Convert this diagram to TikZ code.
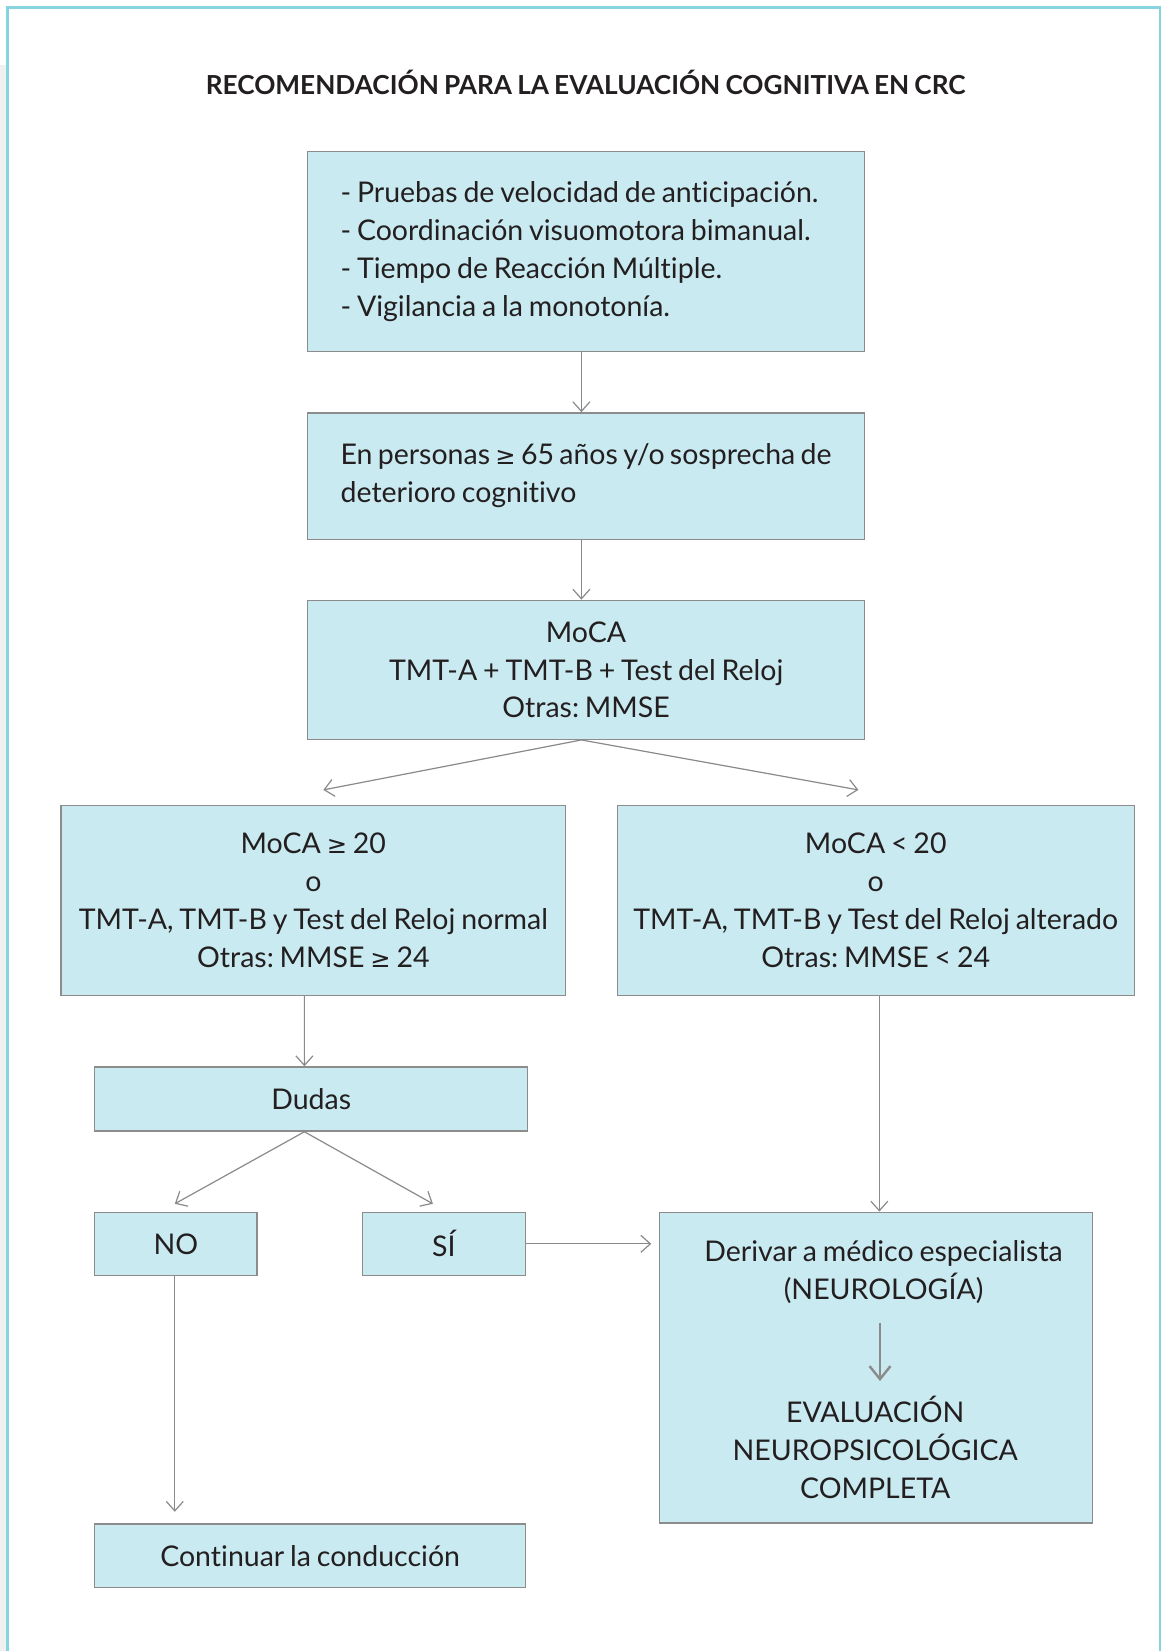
\documentclass[tikz,border=0pt]{standalone}
\usepackage{fontspec}
\setmainfont[Ligatures=NoCommon,WordSpace=0.8]{Lato}
\newfontfamily\symfont{DejaVu Sans}
\usetikzlibrary{arrows.meta}
\definecolor{boxfill}{HTML}{C9EAF0}
\definecolor{boxline}{HTML}{8C8C8C}
\definecolor{framecol}{HTML}{86D4E0}
\definecolor{ink}{HTML}{231F20}
\definecolor{arrowgray}{HTML}{8A8A8A}
\definecolor{stripgray}{HTML}{F0F0F0}
\newcommand{\gesign}{{\symfont\scalebox{0.85}{≥}}}
\frenchspacing
\begin{document}
\begin{tikzpicture}[x=1pt,y=-1pt,
  every node/.style={text=ink,font=\fontsize{28.5}{37.9}\selectfont},
  flowbox/.style={draw=boxline,line width=1.3pt,fill=boxfill,inner sep=0pt,align=center},
  listbox/.style={flowbox,align=flush left,inner xsep=33pt},
  plain/.style={inner sep=0pt,align=center},
  link/.style={draw=arrowgray,line width=1.2pt,-{Straight Barb[length=9.5pt,width=17pt,line width=1.2pt]}},
  biglink/.style={draw=arrowgray,line width=2.4pt,-{Straight Barb[length=13pt,width=21pt,line width=2.4pt]}}
]
\useasboundingbox (0,0) rectangle (1168,1651);
\fill[white] (0,0) rectangle (1168,1651);
% grey strip on the left margin and the open cyan frame
\fill[stripgray] (0,65) rectangle (6,1651);
\draw[framecol,line width=2.6pt] (7.5,1651) -- (7.5,7.5) -- (1160,7.5) -- (1160,1651);

% title
\node[plain,font=\bfseries\fontsize{26.2}{32}\selectfont] (title) at (585.6,82) {RECOMENDACIÓN PARA LA EVALUACIÓN COGNITIVA EN CRC};

% boxes
\node[listbox,minimum width=557.2pt,minimum height=200.1pt,text width=491pt] (b1) at (586.1,251.75)
 {- Pruebas de velocidad de anticipación.\\- Coordinación visuomotora bimanual.\\- Tiempo de Reacción Múltiple.\\- Vigilancia a la monotonía.};
\node[listbox,minimum width=557.2pt,minimum height=126.3pt,text width=491pt] (b2) at (586.1,476)
 {En personas \gesign{} 65 años y/o sosprecha de\\deterioro cognitivo};
\node[flowbox,minimum width=557.2pt,minimum height=139pt] (b3) at (586.1,669.8)
 {MoCA\\TMT-A + TMT-B + Test del Reloj\\Otras: MMSE};
\node[flowbox,minimum width=504.5pt,minimum height=189.6pt] (b4) at (313.35,900.5)
 {MoCA \gesign{} 20\\o\\TMT-A, TMT-B y Test del Reloj normal\\Otras: MMSE \gesign{} 24};
\node[flowbox,minimum width=517.1pt,minimum height=189.6pt] (b5) at (875.75,900.5)
 {MoCA < 20\\o\\TMT-A, TMT-B y Test del Reloj alterado\\Otras: MMSE < 24};
\node[flowbox,minimum width=432.8pt,minimum height=64.2pt] (dudas) at (311.2,1099) {Dudas};
\node[flowbox,minimum width=162.2pt,minimum height=63.2pt] (no) at (175.9,1243.8) {NO};
\node[flowbox,minimum width=163.2pt,minimum height=63.2pt] (si) at (443.9,1243.8) {SÍ};
\node[flowbox,minimum width=432.9pt,minimum height=310.7pt] (deriv) at (875.75,1367.55) {};
\node[plain] (derivtxt) at (883.6,1272.2) {Derivar a médico especialista\\(NEUROLOGÍA)};
\node[plain] (evaltxt) at (875.2,1447.8) {EVALUACIÓN\\NEUROPSICOLÓGICA\\COMPLETA};
\node[flowbox,minimum width=430.7pt,minimum height=63.2pt] (cont) at (310.15,1555.6) {Continuar la conducción};

% free arrow ends
\coordinate (t4) at (323.3,789.9);
\coordinate (t5) at (858.4,789.9);
\coordinate (tno) at (174.8,1203.8);
\coordinate (tsi) at (432.9,1203.8);
\coordinate (b3out) at ([xshift=-4.7pt]b3.south);
\coordinate (dout) at ([xshift=-6.8pt]dudas.south);
\coordinate (inA) at (880,1322.7);
\coordinate (inB) at (880,1381);

% connectors
\draw[link] ([xshift=-4.7pt]b1.south) -- ([xshift=-4.7pt]b2.north);
\draw[link] ([xshift=-4.7pt]b2.south) -- ([xshift=-4.7pt]b3.north);
\draw[link] (b3out) -- (t4);
\draw[link] (b3out) -- (t5);
\draw[link] ([xshift=-9pt]b4.south) -- ([xshift=-6.8pt]dudas.north);
\draw[link] (dout) -- (tno);
\draw[link] (dout) -- (tsi);
\draw[link,shorten >=7.4pt] (si.east) -- (si.east -| deriv.west);
\draw[link] ([xshift=3.6pt]b5.south) -- ([xshift=3.6pt]deriv.north);
\draw[link,shorten >=11.6pt] ([xshift=-1.1pt]no.south) -- ([xshift=-1.1pt]no.south |- cont.north);
\draw[biglink] (inA) -- (inB);
\end{tikzpicture}
\end{document}
